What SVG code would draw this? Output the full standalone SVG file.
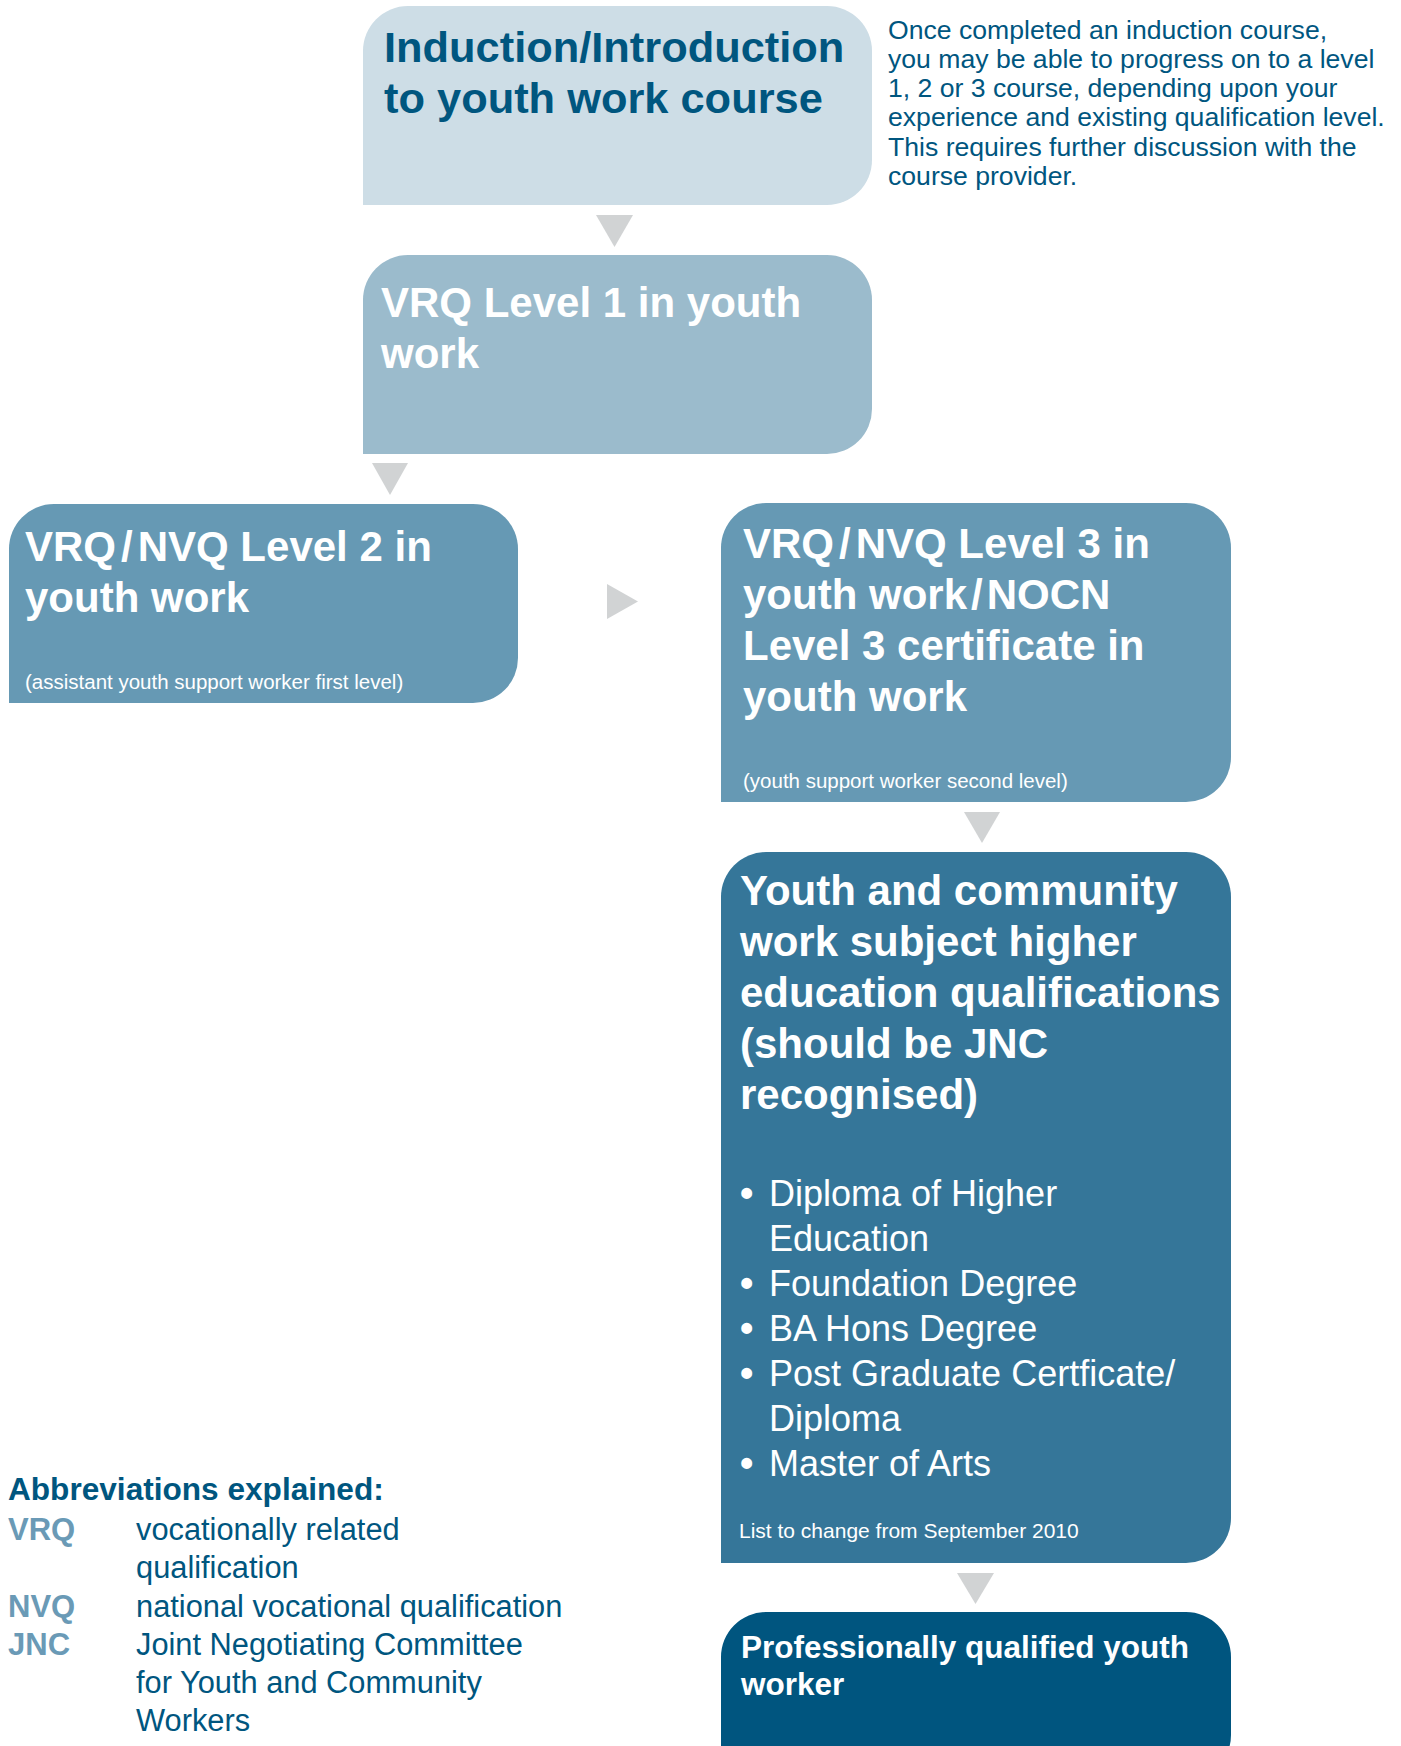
<svg xmlns="http://www.w3.org/2000/svg" width="1401" height="1746" viewBox="0 0 1401 1746">
<style>
text{font-family:"Liberation Sans",Arial,sans-serif}
.t{font-size:42px;font-weight:bold;fill:#ffffff}
.sub{font-size:20.5px;fill:#ffffff}
.side{font-size:26.6px;fill:#00567f}
.li{font-size:36px;fill:#ffffff}
.bu{font-size:38px;font-weight:bold}
.arr{fill:#d1d3d4}
.ab{font-size:31px;font-weight:bold;fill:#6a9ab6}
.df{font-size:30.8px;fill:#00567f}
</style>
<rect width="1401" height="1746" fill="#ffffff"/>
<g id="connectors">
<polygon class="arr" points="596,215 633,215 614.5,247"/>
<polygon class="arr" points="372,463 408,463 390,495"/>
<polygon class="arr" points="607,584 607,619 638,601.5"/>
<polygon class="arr" points="964,812 1000,812 982,843"/>
<polygon class="arr" points="957,1573 994,1573 975.5,1604"/>
</g>
<g id="induction">
<path d="M363,205 V51 A45,45 0 0 1 408,6 H827 A45,45 0 0 1 872,51 V160 A45,45 0 0 1 827,205 Z" fill="#cddde6"/>
<text x="384" y="62" style="font-size:43.4px;font-weight:bold;fill:#00567f">Induction/Introduction</text>
<text x="384" y="113" style="font-size:43.4px;font-weight:bold;fill:#00567f">to youth work course</text>
</g>
<g id="note">
<text class="side" x="888" y="38.5">Once completed an induction course,</text>
<text class="side" x="888" y="67.8">you may be able to progress on to a level</text>
<text class="side" x="888" y="97.1">1, 2 or 3 course, depending upon your</text>
<text class="side" x="888" y="126.4">experience and existing qualification level.</text>
<text class="side" x="888" y="155.7">This requires further discussion with the</text>
<text class="side" x="888" y="185">course provider.</text>
</g>
<g id="level1">
<path d="M363,454 V300 A45,45 0 0 1 408,255 H827 A45,45 0 0 1 872,300 V409 A45,45 0 0 1 827,454 Z" fill="#9bbbcc"/>
<text class="t" x="381" y="317">VRQ Level 1 in youth</text>
<text class="t" x="381" y="368">work</text>
</g>
<g id="level2">
<path d="M9,703 V549 A45,45 0 0 1 54,504 H473 A45,45 0 0 1 518,549 V658 A45,45 0 0 1 473,703 Z" fill="#6699b4"/>
<text class="t" x="25" y="561">VRQ<tspan dx="5">/</tspan><tspan dx="5">NVQ Level 2 in</tspan></text>
<text class="t" x="25" y="612">youth work</text>
<text class="sub" x="25" y="689">(assistant youth support worker first level)</text>
</g>
<g id="level3">
<path d="M721,802 V548 A45,45 0 0 1 766,503 H1186 A45,45 0 0 1 1231,548 V757 A45,45 0 0 1 1186,802 Z" fill="#6699b4"/>
<text class="t" x="743" y="558">VRQ<tspan dx="5">/</tspan><tspan dx="5">NVQ Level 3 in</tspan></text>
<text class="t" x="743" y="609">youth work<tspan dx="4">/</tspan><tspan dx="4">NOCN</tspan></text>
<text class="t" x="743" y="660">Level 3 certificate in</text>
<text class="t" x="743" y="711">youth work</text>
<text class="sub" x="743" y="788">(youth support worker second level)</text>
</g>
<g id="higher-education">
<path d="M721,1563 V897 A45,45 0 0 1 766,852 H1186 A45,45 0 0 1 1231,897 V1518 A45,45 0 0 1 1186,1563 Z" fill="#357699"/>
<text class="t" x="740" y="905">Youth and community</text>
<text class="t" x="740" y="956">work subject higher</text>
<text class="t" x="740" y="1007">education qualifications</text>
<text class="t" x="740" y="1058">(should be JNC</text>
<text class="t" x="740" y="1109">recognised)</text>
<text class="li" x="740" y="1206"><tspan class="bu">•</tspan><tspan x="769">Diploma of Higher</tspan></text>
<text class="li" x="769" y="1251">Education</text>
<text class="li" x="740" y="1296"><tspan class="bu">•</tspan><tspan x="769">Foundation Degree</tspan></text>
<text class="li" x="740" y="1341"><tspan class="bu">•</tspan><tspan x="769">BA Hons Degree</tspan></text>
<text class="li" x="740" y="1386"><tspan class="bu">•</tspan><tspan x="769">Post Graduate Certficate/</tspan></text>
<text class="li" x="769" y="1431">Diploma</text>
<text class="li" x="740" y="1476"><tspan class="bu">•</tspan><tspan x="769">Master of Arts</tspan></text>
<text x="739" y="1538" style="font-size:21px;fill:#ffffff">List to change from September 2010</text>
</g>
<g id="professional">
<path d="M721,1800 V1657 A45,45 0 0 1 766,1612 H1186 A45,45 0 0 1 1231,1657 V1735 A45,45 0 0 1 1186,1780 H721 Z" fill="#00557f"/>
<text x="741" y="1658" style="font-size:31.5px;font-weight:bold;fill:#ffffff">Professionally qualified youth</text>
<text x="741" y="1695" style="font-size:31.5px;font-weight:bold;fill:#ffffff">worker</text>
</g>
<g id="legend">
<text x="8" y="1500" style="font-size:31.6px;font-weight:bold;fill:#00567f">Abbreviations explained:</text>
<text class="ab" x="8" y="1540">VRQ</text>
<text class="df" x="136" y="1540">vocationally related</text>
<text class="df" x="136" y="1578">qualification</text>
<text class="ab" x="8" y="1617">NVQ</text>
<text class="df" x="136" y="1617">national vocational qualification</text>
<text class="ab" x="8" y="1655">JNC</text>
<text class="df" x="136" y="1655">Joint Negotiating Committee</text>
<text class="df" x="136" y="1693">for Youth and Community</text>
<text class="df" x="136" y="1731">Workers</text>
</g>
</svg>
